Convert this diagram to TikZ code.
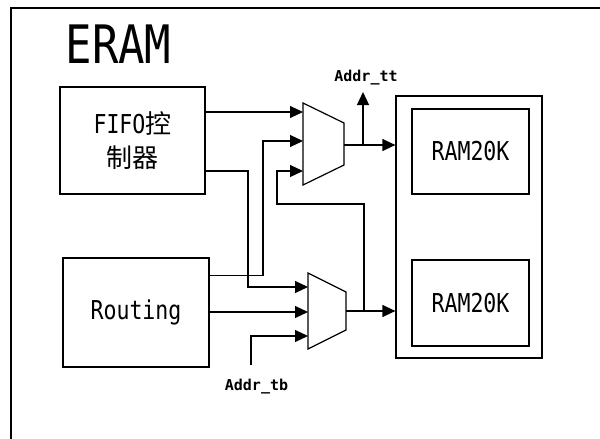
\documentclass[tikz,border=0pt]{standalone}
\usepackage{fontspec}
\usetikzlibrary{arrows.meta}
\newfontfamily\labelfont[FakeStretch=0.83]{DejaVu Sans Mono}
\newfontfamily\addrfont{DejaVu Sans Mono Bold}
\newfontfamily\cjkfont{Noto Sans CJK SC}
\begin{document}
\begin{tikzpicture}[x=1pt,y=-1pt,
  blk/.style={draw,line width=1.2pt,inner sep=0pt},
  wire/.style={line width=1.2pt},
  sig/.style={wire,-{Triangle[length=13pt,width=12pt]}},
  addr/.style={font=\addrfont\fontsize{15}{15}\selectfont},
  every node/.style={font=\labelfont\fontsize{26}{34}\selectfont}]
  \useasboundingbox (0,0) rectangle (600,439);
  % outer frame, cut by the page on the right and bottom
  \draw[line width=2pt] (11,439) -- (11,8) -- (600,8);
  \node[font=\labelfont\fontsize{53}{53}\selectfont] (title) at (118.5,44) {ERAM};
  \node[blk,minimum width=145pt,minimum height=107pt,align=center] (fifo) at (132.5,140.5) {FIFO{\cjkfont 控}\\{\cjkfont 制器}};
  \node[blk,minimum width=146pt,minimum height=109pt] (rout) at (136,312.5) {Routing};
  \node[blk,minimum width=146pt,minimum height=262pt] (ramgrp) at (469,227) {};
  \node[blk,minimum width=117pt,minimum height=85pt] (ramA) at (470.5,151.5) {RAM20K};
  \node[blk,minimum width=117pt,minimum height=86pt] (ramB) at (470.5,303) {RAM20K};
  % muxes
  \draw[wire] (303,103) -- (344,123) -- (344,165) -- (303,185) -- cycle;
  \coordinate (m1a) at (303,112);
  \coordinate (m1b) at (303,141);
  \coordinate (m1c) at (303,171);
  \coordinate (m1o) at (344,145);
  \draw[wire] (308,273) -- (346,292) -- (346,330) -- (308,349) -- cycle;
  \coordinate (m2a) at (308,287);
  \coordinate (m2b) at (308,312);
  \coordinate (m2c) at (308,336);
  \coordinate (m2o) at (346,311);
  \coordinate (j1) at ([xshift=19pt]m1o);
  \coordinate (j2) at ([xshift=18pt]m2o);
  \coordinate (fb) at (277,204);
  \coordinate (ttpin) at (363,92);
  \coordinate (tbpin) at (251,365);
  \node[addr] (addrtt) at (366,78) {Addr\_tt};
  \node[addr] (addrtb) at (256.5,387) {Addr\_tb};
  % wires
  \draw[sig] (fifo.east |- m1a) -- (m1a);
  \draw[sig] (fifo.east |- m1c) -| ([xshift=-60pt]m2a) -- (m2a);
  \draw[sig] ([yshift=-18pt]rout.north east) -| ([xshift=-40pt]m1b) -- (m1b);
  \draw[sig] (rout.east |- m2b) -- (m2b);
  \draw[sig] (tbpin) |- (m2c);
  \draw[sig] (m1o) -- (ramgrp.west |- m1o);
  \draw[sig] (j1) -- (ttpin);
  \draw[sig] (m2o) -- (ramgrp.west |- m2o);
  \draw[sig] (j2) |- (fb) |- (m1c);
\end{tikzpicture}
\end{document}
